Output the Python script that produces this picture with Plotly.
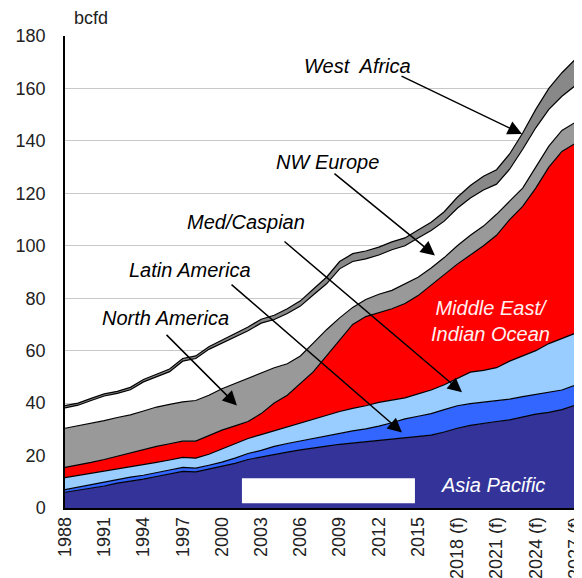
import plotly.graph_objects as go

years = list(range(1988, 2028))

asia_pacific = [6.0, 6.8, 7.6, 8.4, 9.5, 10.2, 11.0, 12.0, 13.0, 14.0, 13.8, 14.8, 16.0, 17.0, 18.5, 19.5, 20.5, 21.3, 22.2, 22.8,
                23.6, 24.3, 24.8, 25.2, 25.6, 26.2, 26.8, 27.2, 27.8, 29.0, 30.4, 31.5, 32.3, 33.0, 33.6, 34.8, 35.8, 36.5, 37.5, 39.2]
latin_america = [1.0, 1.2, 1.4, 1.4, 1.3, 1.6, 1.5, 1.6, 1.5, 1.5, 1.4, 1.5, 1.5, 2.0, 2.3, 2.5, 3.0, 3.3, 3.4, 3.8,
                 3.9, 4.2, 4.6, 5.0, 5.6, 6.3, 7.2, 7.8, 8.2, 8.5, 8.6, 8.3, 8.0, 7.8, 7.9, 7.7, 7.5, 7.5, 7.5, 7.6]
med_caspian = [4.6, 4.4, 4.2, 4.2, 4.2, 4.0, 4.0, 3.8, 3.8, 3.8, 3.8, 4.2, 5.0, 5.5, 5.7, 6.0, 6.0, 6.2, 6.7, 7.4,
               8.0, 8.3, 8.6, 8.8, 9.1, 8.7, 8.0, 8.5, 9.0, 9.5, 10.5, 12.0, 12.2, 12.7, 14.5, 15.5, 16.7, 18.7, 19.5, 19.8]
middle_east = [3.9, 4.0, 4.2, 4.5, 4.8, 5.2, 5.7, 6.1, 6.2, 6.2, 6.5, 7.0, 7.2, 6.8, 6.5, 8.0, 10.5, 12.2, 15.2, 18.0,
               22.5, 27.2, 32.0, 34.0, 34.2, 34.8, 36.0, 37.5, 40.0, 42.0, 43.5, 44.7, 47.5, 50.5, 54.0, 57.0, 62.0, 67.3, 71.5, 72.4]
north_america = [14.9, 14.9, 14.8, 14.8, 14.7, 14.5, 14.8, 15.0, 15.0, 15.0, 15.5, 15.5, 15.8, 16.2, 16.5, 15.5, 13.5, 12.0, 10.5, 11.0,
                 10.0, 8.5, 6.5, 6.5, 7.0, 7.0, 7.5, 7.0, 6.5, 6.5, 7.0, 7.5, 7.5, 8.0, 7.0, 7.0, 8.0, 8.0, 8.0, 8.0]
nw_europe = [7.8, 7.9, 8.8, 9.4, 9.2, 9.6, 11.1, 11.6, 12.5, 15.5, 16.0, 17.5, 17.3, 17.7, 18.1, 19.0, 18.4, 19.2, 19.0, 18.3,
             17.5, 18.7, 17.5, 15.5, 15.0, 15.5, 14.5, 15.0, 14.3, 13.9, 14.3, 14.2, 13.8, 11.5, 12.2, 14.8, 15.0, 14.0, 13.0, 14.0]
west_africa = [0.8, 0.8, 0.8, 0.8, 0.8, 0.9, 0.9, 0.9, 1.0, 1.0, 1.0, 1.0, 1.2, 1.3, 1.4, 1.5, 1.6, 1.8, 2.0, 2.2,
               2.5, 2.8, 3.0, 3.0, 3.0, 3.0, 3.0, 3.0, 3.2, 3.6, 4.2, 4.8, 5.2, 5.5, 5.8, 6.2, 7.0, 8.0, 9.0, 10.0]

tick_years = [1988, 1991, 1994, 1997, 2000, 2003, 2006, 2009, 2012, 2015, 2018, 2021, 2024, 2027]
tick_labels = ["1988", "1991", "1994", "1997", "2000", "2003", "2006", "2009", "2012", "2015",
               "2018 (f)", "2021 (f)", "2024 (f)", "2027 (f)"]

series = [
    ("Asia Pacific", asia_pacific, "#333399"),
    ("Latin America", latin_america, "#3366FF"),
    ("Med/Caspian", med_caspian, "#99CCFF"),
    ("Middle East/Indian Ocean", middle_east, "#FF0000"),
    ("North America", north_america, "#999999"),
    ("NW Europe", nw_europe, "#FFFFFF"),
    ("West Africa", west_africa, "#888888"),
]

FONT = "Arial, Liberation Sans, sans-serif"

fig = go.Figure()
for name, vals, col in series:
    fig.add_trace(go.Scatter(
        x=years, y=vals, name=name, stackgroup="one", mode="lines",
        line=dict(color="black", width=1.2), fillcolor=col, showlegend=False,
    ))

total_last = sum(s[1][-1] for s in series)

annotations = []
labels = [
    ("West  Africa", 2010.4, 168.4, "black"),
    ("NW Europe", 2008.1, 131.8, "black"),
    ("Med/Caspian", 2001.84, 108.9, "black"),
    ("Latin America", 1997.56, 90.6, "black"),
    ("North America", 1995.65, 72.3, "black"),
    ("Middle East/<br>Indian Ocean", 2020.5, 71.2, "#FFF0F0"),
    ("Asia Pacific", 2020.73, 8.6, "white"),
]
for txt, x, y, c in labels:
    annotations.append(dict(x=x, y=y, xref="x", yref="y", text="<i>" + txt + "</i>", showarrow=False,
                            font=dict(family=FONT, size=20, color=c), align="center"))

arrows = [
    ((2013.62, 165.0), (2022.95, 142.6)),
    ((2008.49, 128.0), (2016.29, 96.3)),
    ((2004.67, 102.1), (2018.36, 44.1)),
    ((2000.62, 85.7), (2013.77, 28.8)),
    ((1995.65, 66.6), (2001.15, 39.1)),
]
for (tx, ty), (hx, hy) in arrows:
    annotations.append(dict(x=hx, y=hy, ax=tx, ay=ty, xref="x", yref="y", axref="x", ayref="y",
                            text="", showarrow=True, arrowhead=2, arrowsize=1.9, arrowwidth=1.5,
                            arrowcolor="black", standoff=0))

annotations.append(dict(x=0.013, y=1.038, xref="paper", yref="paper", text="bcfd", showarrow=False,
                        xanchor="left", yanchor="middle", font=dict(family=FONT, size=18, color="#222")))

shapes = [
    dict(type="rect", xref="x", yref="y", x0=2001.53, x1=2014.76, y0=1.8, y1=11.3,
         fillcolor="white", line=dict(width=0), layer="above"),
    dict(type="line", xref="x", yref="y", x0=years[-1], x1=years[-1], y0=0, y1=total_last,
         line=dict(color="black", width=1.5), layer="above"),
]

# The page body has an 8px margin, so the figure is sized to fit the window.
fig.update_layout(
    width=574, height=570,
    margin=dict(l=57, r=7, t=28, b=70),
    paper_bgcolor="white", plot_bgcolor="white",
    font=dict(family=FONT, size=18, color="#222"),
    annotations=annotations, shapes=shapes,
)
fig.update_xaxes(range=[1988, 2027], tickvals=tick_years, ticktext=tick_labels, tickangle=-90,
                 showgrid=False, showline=True, linecolor="black", linewidth=1.5, ticks="",
                 ticklabeloverflow="allow",
                 tickfont=dict(family=FONT, size=18, color="#222"), automargin=False, zeroline=False)
fig.update_yaxes(range=[0, 180], dtick=20, showgrid=True, gridcolor="#C8C8C8", gridwidth=1.2,
                 showline=True, linecolor="black", linewidth=1.5, ticks="", zeroline=False,
                 tickfont=dict(family=FONT, size=18, color="#222"), ticklabelstandoff=14, automargin=False)

fig.write_html("out.html")
